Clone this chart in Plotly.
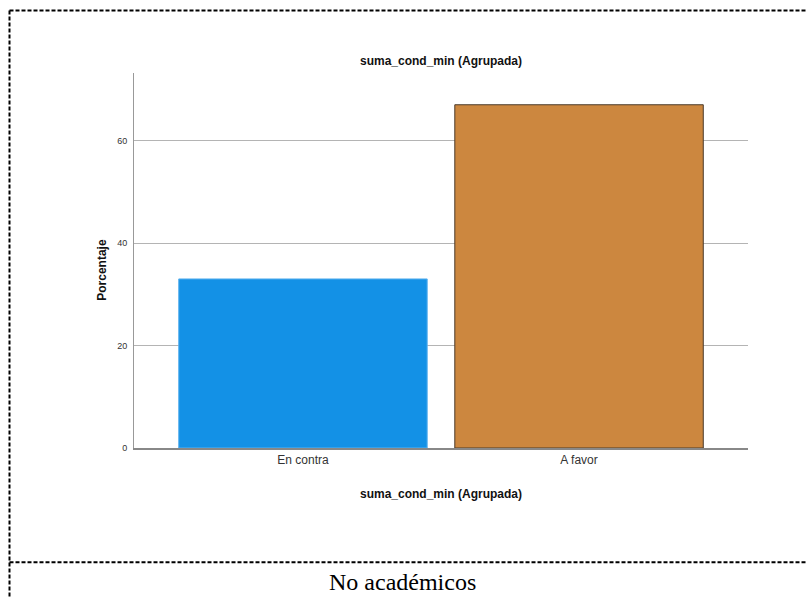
import plotly.graph_objects as go

categories = ["En contra", "A favor"]
values = [33.0, 67.0]
bar_colors = ["#1391E6", "#CC873F"]
bar_lines = ["#5AB0EE", "#4A3A2A"]
y_ticks = [0, 20, 40, 60]
title_text = "suma_cond_min (Agrupada)"
y_title = "Porcentaje"
caption = "No académicos"

W, H = 807, 598
L, R, T, B = 134, 59, 73, 149.5
pw = W - L - R
ph = H - T - B

def px_x(x):
    return (x - L) / pw

def px_y(y):
    return (H - B - y) / ph

fig = go.Figure()
fig.add_trace(go.Bar(
    x=categories, y=values, width=0.9,
    marker=dict(color=bar_colors, line=dict(color=bar_lines, width=1)),
    hoverinfo="skip",
))

border = dict(color="black", width=2, dash="4px,2px")

fig.update_layout(
    width=W, height=H,
    margin=dict(l=L, r=R, t=T, b=B, pad=0),
    paper_bgcolor="white", plot_bgcolor="white",
    showlegend=False,
    font=dict(family="Liberation Sans, Arial, sans-serif", color="#222222"),
    xaxis=dict(
        range=[-0.612, 1.612], showgrid=False, zeroline=False,
        showline=True, linecolor="#888888", linewidth=1.5,
        ticks="", tickfont=dict(size=12, color="#333333"),
        fixedrange=True,
    ),
    yaxis=dict(
        range=[0, 73.2], tickvals=y_ticks, showgrid=True,
        gridcolor="#B4B4B4", gridwidth=1, zeroline=False,
        showline=True, linecolor="#999999", linewidth=1,
        ticks="", tickfont=dict(size=9, color="#333333"),
        ticklabelstandoff=4, fixedrange=True,
    ),
    annotations=[
        dict(text="<b>" + title_text + "</b>", x=0.5, y=px_y(61), xref="paper", yref="paper",
             showarrow=False, font=dict(size=12, color="#111111"), xanchor="center", yanchor="middle"),
        dict(text="<b>" + title_text + "</b>", x=0.5, y=px_y(495), xref="paper", yref="paper",
             showarrow=False, font=dict(size=12, color="#111111"), xanchor="center", yanchor="middle"),
        dict(text="<b>" + y_title + "</b>", x=px_x(102), y=px_y(270), xref="paper", yref="paper",
             showarrow=False, textangle=-90, font=dict(size=12, color="#111111"),
             xanchor="center", yanchor="middle"),
        dict(text=caption, x=px_x(402), y=px_y(583), xref="paper", yref="paper",
             showarrow=False, font=dict(size=24, family="Liberation Serif, Times New Roman, serif", color="#000000"),
             xanchor="center", yanchor="middle"),
    ],
    shapes=[
        dict(type="line", xref="paper", yref="paper", x0=px_x(9.5), x1=px_x(808), y0=px_y(10.5), y1=px_y(10.5),
             line=border),
        dict(type="line", xref="paper", yref="paper", x0=px_x(9.5), x1=px_x(808), y0=px_y(563), y1=px_y(563),
             line=border),
        dict(type="line", xref="paper", yref="paper", x0=px_x(9.5), x1=px_x(9.5), y0=px_y(10.5), y1=px_y(600),
             line=border),
    ],
)

fig.write_html("out.html", config={"displayModeBar": False},
               post_script="document.body.style.margin='0';document.body.style.overflow='hidden';")
